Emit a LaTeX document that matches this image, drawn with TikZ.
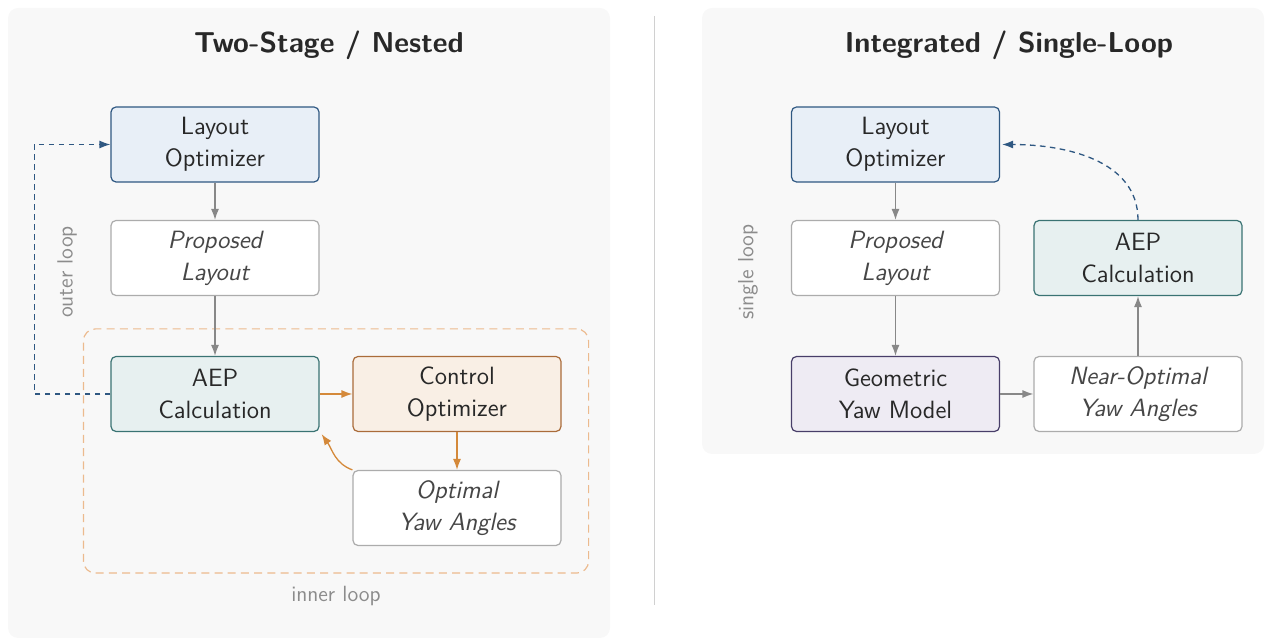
\documentclass[tikz,border=0pt]{standalone}
\usepackage{fontspec}
\usetikzlibrary{arrows.meta,positioning,fit,backgrounds,calc}
\definecolor{panelBg}{RGB}{248,248,248}
\definecolor{layoutFill}{RGB}{232,239,247}
\definecolor{layoutEdge}{RGB}{47,88,130}
\definecolor{aepFill}{RGB}{231,240,240}
\definecolor{aepEdge}{RGB}{58,115,115}
\definecolor{ctrlFill}{RGB}{249,239,229}
\definecolor{ctrlEdge}{RGB}{170,108,58}
\definecolor{ctrlArrow}{RGB}{212,137,58}
\definecolor{yawFill}{RGB}{238,235,243}
\definecolor{yawEdge}{RGB}{72,62,105}
\definecolor{dataEdge}{RGB}{172,172,172}
\definecolor{dataText}{RGB}{70,70,70}
\definecolor{flowGray}{RGB}{136,136,136}
\definecolor{innerDash}{RGB}{236,186,142}
\definecolor{textDark}{RGB}{40,40,40}
\definecolor{labelGray}{RGB}{140,140,140}
\definecolor{divider}{RGB}{208,208,208}
\tikzset{
    every node/.append style={align=center,font=\sffamily},
    box/.style={rectangle,draw,line width=0.6pt,rounded corners=2.5pt,minimum width=104pt,
        minimum height=37.5pt,inner sep=2pt,text=textDark,font=\sffamily\fontsize{12.5}{16}\selectfont},
    datum/.style={box,fill=white,draw=dataEdge,text=dataText,font=\sffamily\itshape\fontsize{12.5}{16}\selectfont},
    arr/.style={-{Latex[length=5.5pt,width=4pt]},line width=0.65pt,draw=flowGray},
    oarr/.style={arr,draw=ctrlArrow},
    darr/.style={arr,draw=layoutEdge,dash pattern=on 2.8pt off 2.2pt},
    boundary/.style={rectangle,draw=innerDash,line width=0.6pt,dash pattern=on 4pt off 2.6pt,rounded corners=6pt},
    lbl/.style={font=\sffamily\fontsize{11}{12}\selectfont,text=labelGray},
    title/.style={font=\sffamily\bfseries\fontsize{14.4}{17}\selectfont,text=textDark},
    panel/.style={fill=panelBg,rounded corners=5pt}
}
\begin{document}
\begin{tikzpicture}[x=0.5pt,y=-0.5pt]
    \useasboundingbox (0,0) rectangle (1266,641);

    % panels
    \begin{scope}[on background layer]
        \fill[panel] (8,8) rectangle (610,638);
        \fill[panel] (702,8) rectangle (1264,454);
    \end{scope}
    \draw[divider,line width=0.5pt] (654,16) -- (654,605);

    \node[title] (titleA) at (329,45) {Two-Stage / Nested};
    \node[title] (titleB) at (1009,45) {Integrated / Single-Loop};

    % two-stage
    \node[box,fill=layoutFill,draw=layoutEdge] (layA) at (215,144.5) {Layout\\Optimizer};
    \node[datum]                               (propA) at (215,258)  {Proposed\\Layout};
    \node[box,fill=aepFill,draw=aepEdge]       (aepA) at (215,394)   {AEP\\Calculation};
    \node[box,fill=ctrlFill,draw=ctrlEdge]     (ctrl) at (457,394)   {Control\\Optimizer};
    \node[datum]                               (optYaw) at (457,508) {Optimal\\Yaw Angles};

    \begin{scope}[on background layer]
        \node[boundary,fit=(aepA)(ctrl)(optYaw),inner sep=13.5pt,
            label={[lbl,anchor=center,yshift=-11pt]south:inner loop}] (inner) {};
    \end{scope}

    \draw[arr] (layA) -- (propA);
    \draw[arr] (propA) -- (aepA);
    \draw[oarr] (aepA) -- (ctrl);
    \draw[oarr] (ctrl) -- (optYaw);
    \draw[oarr] (optYaw.north west) to[out=160,in=-55] ([xshift=1pt,yshift=-1pt]aepA.south east);
    \draw[darr] (aepA.west) -- ++(-76,0) |- (layA.west);
    \node[lbl,rotate=90] (outer) at (67,272) {outer loop};

    % single-loop
    \node[box,fill=layoutFill,draw=layoutEdge] (layB) at (895.5,144.5) {Layout\\Optimizer};
    \node[datum]                               (propB) at (895.5,258) {Proposed\\Layout};
    \node[box,fill=yawFill,draw=yawEdge]       (geo) at (895.5,394)   {Geometric\\Yaw Model};
    \node[datum]                               (nearYaw) at (1138,394) {Near-Optimal\\Yaw Angles};
    \node[box,fill=aepFill,draw=aepEdge]       (aepB) at (1138,258)   {AEP\\Calculation};

    \foreach \a/\b in {layB/propB,propB/geo,geo/nearYaw,nearYaw/aepB} { \draw[arr] (\a) -- (\b); }
    \draw[darr] (aepB.north) to[out=90,in=0] ([xshift=1pt]layB.east);
    \node[lbl,rotate=90] (single) at (748,272) {single loop};
\end{tikzpicture}
\end{document}
